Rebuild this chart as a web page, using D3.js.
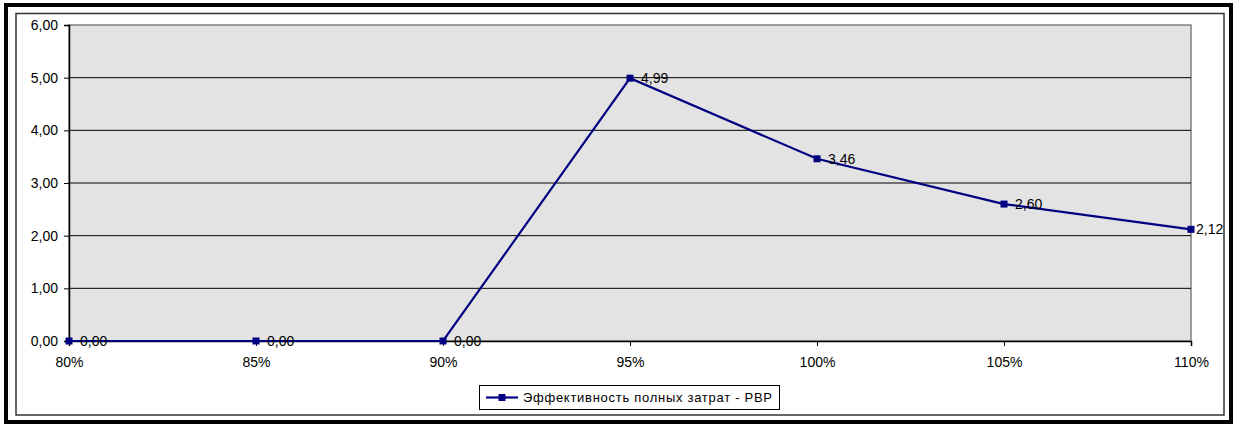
<!DOCTYPE html>
<html><head><meta charset="utf-8">
<script src="https://cdn.jsdelivr.net/npm/d3@7"></script>
<style>
html,body{margin:0;padding:0;background:#fff;}
svg{display:block;font-family:"Liberation Sans",Arial,sans-serif;}
</style></head>
<body>
<svg id="chart" width="1238" height="426"></svg>
<script>
const categories = ["80%","85%","90%","95%","100%","105%","110%"];
const values = [0.00, 0.00, 0.00, 4.99, 3.46, 2.60, 2.12];
const valueLabels = ["0,00","0,00","0,00","4,99","3,46","2,60","2,12"];
const yTicks = [0,1,2,3,4,5,6];
const seriesName = "Эффективность полных затрат - PBP";

const svg = d3.select("#chart");
const fmt = d => d.toFixed(2).replace(".", ",");
const FS = 14;

// outer frame
svg.append("rect").attr("x",6).attr("y",5).attr("width",1225).attr("height",417)
  .attr("fill","#fff").attr("stroke","#000").attr("stroke-width",4);
svg.append("rect").attr("x",16).attr("y",13.5).attr("width",1208).attr("height",401.5)
  .attr("fill","none").attr("stroke","#333").attr("stroke-width",1.5);

const L=69, R=1191, T=25, B=341;
const x = d3.scalePoint().domain(categories).range([L,R]);
const y = d3.scaleLinear().domain([0,6]).range([B,T]);

svg.append("rect").attr("x",L).attr("y",T).attr("width",R-L).attr("height",B-T)
  .attr("fill","#e3e3e3").attr("stroke","#808080").attr("stroke-width",1.5);

// gridlines
svg.append("g").selectAll("line").data(yTicks.slice(1,-1)).join("line")
  .attr("x1",L).attr("x2",R).attr("y1",d=>y(d)).attr("y2",d=>y(d))
  .attr("stroke","#000").attr("stroke-width",1);

// y axis
const yAxis = svg.append("g").attr("transform",`translate(${L},0)`)
  .call(d3.axisLeft(y).tickValues(yTicks).tickFormat(fmt).tickSize(5).tickPadding(6));
yAxis.select(".domain").attr("stroke","#000").attr("stroke-width",1.5);
yAxis.selectAll("text").attr("font-size",FS).attr("fill","#000").attr("font-family","Liberation Sans, Arial, sans-serif");

// x axis
const xAxis = svg.append("g").attr("transform",`translate(0,${B})`)
  .call(d3.axisBottom(x).tickSize(5).tickPadding(11));
xAxis.select(".domain").attr("stroke","#000").attr("stroke-width",1.5);
xAxis.selectAll("text").attr("font-size",FS).attr("fill","#000").attr("font-family","Liberation Sans, Arial, sans-serif");

// line
const line = d3.line().x((d,i)=>x(categories[i])).y(d=>y(d));
svg.append("path").datum(values).attr("d",line).attr("fill","none")
  .attr("stroke","#000080").attr("stroke-width",2.2);
svg.append("g").selectAll("rect").data(values).join("rect")
  .attr("x",(d,i)=>x(categories[i])-3.5).attr("y",d=>y(d)-3.5)
  .attr("width",7).attr("height",7).attr("fill","#000080");

// data labels
svg.append("g").selectAll("text").data(values).join("text")
  .attr("x",(d,i)=>x(categories[i])+(i===categories.length-1?5:11))
  .attr("y",d=>y(d)).attr("dy","0.35em")
  .attr("font-size",FS).attr("fill","#000")
  .text((d,i)=>valueLabels[i]);

// legend
const lg = svg.append("g");
lg.append("rect").attr("x",479.5).attr("y",385.5).attr("width",300).attr("height",24)
  .attr("fill","#fff").attr("stroke","#000").attr("stroke-width",1);
lg.append("line").attr("x1",486).attr("x2",518).attr("y1",397.5).attr("y2",397.5)
  .attr("stroke","#000080").attr("stroke-width",2.2);
lg.append("rect").attr("x",498.5).attr("y",394).attr("width",7).attr("height",7).attr("fill","#000080");
lg.append("text").attr("x",523).attr("y",397.5).attr("dy","0.35em")
  .attr("font-size",13).attr("fill","#000").attr("textLength",249).attr("lengthAdjust","spacing")
  .text(seriesName);
</script>
</body></html>
